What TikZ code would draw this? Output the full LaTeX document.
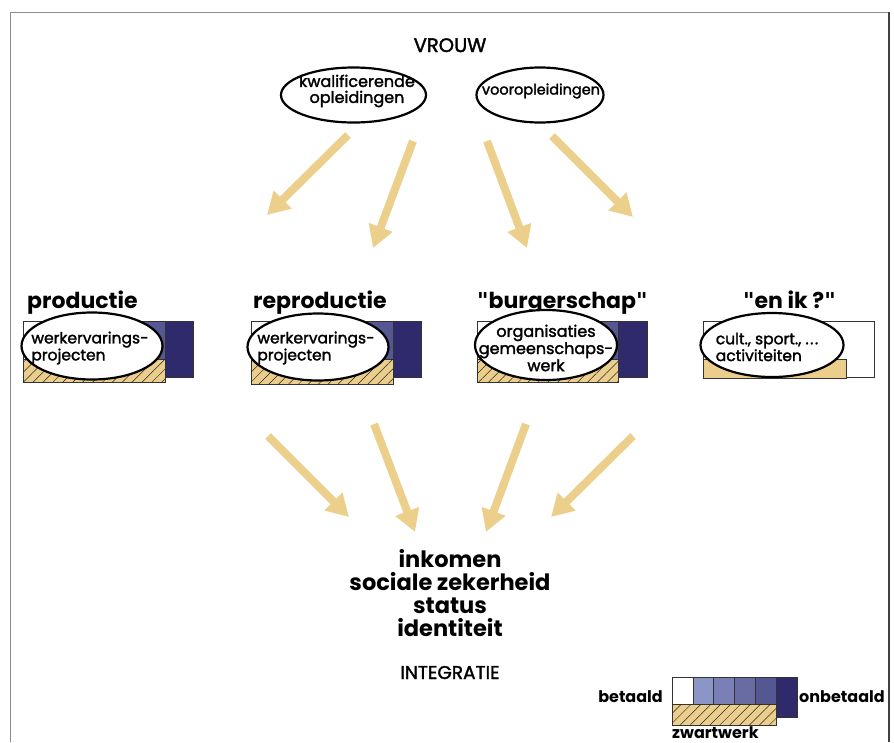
\documentclass[tikz,border=0pt]{standalone}
\usepackage{fontspec}
\setmainfont{Poppins}
\newfontfamily\medfont[FakeBold=1.8]{Poppins}
\newfontfamily\quotefont{DejaVu Sans}
\usetikzlibrary{shapes.geometric,arrows.meta,patterns.meta}
\definecolor{arrowtan}{RGB}{237,207,140}
\definecolor{hatchtan}{RGB}{236,206,140}
\definecolor{navyblue}{RGB}{47,42,108}
\definecolor{blueA}{RGB}{140,150,198}
\definecolor{blueB}{RGB}{122,128,181}
\definecolor{blueC}{RGB}{104,108,163}
\definecolor{blueD}{RGB}{85,87,146}
\definecolor{framegray}{RGB}{140,140,140}
\newcommand\dq{{\quotefont\bfseries "}}
\begin{document}
\begin{tikzpicture}[x=1pt,y=-1pt,
  bigarrow/.style={draw=arrowtan, line width=8pt, -{Triangle[width=24pt,length=22pt]}},
  oval/.style={ellipse, draw=black, line width=2.2pt, fill=white, inner sep=0pt},
  ovaltext/.style={inner sep=0pt, align=left, font=\medfont\fontsize{15.5}{13}\selectfont},
  heading/.style={anchor=base west, inner sep=0pt, font=\fontsize{22}{24}\selectfont\bfseries},
  bottomtext/.style={inner sep=0pt, anchor=base, font=\fontsize{22.5}{23}\selectfont\bfseries},
  legendtext/.style={inner sep=0pt, font=\fontsize{16}{18}\selectfont\bfseries},
  cell/.style={draw=black!80, line width=0.6pt},
  hatchbox/.style={draw=black!80, line width=0.6pt, fill=hatchtan,
     postaction={pattern={Lines[angle=45,distance=7pt,line width=0.5pt]}, pattern color=black!85}}
]
\useasboundingbox (0,0) rectangle (894,742);
\fill[white] (0,0) rectangle (894,742);
% frame
\draw[framegray, line width=1.5pt] (10.5,742) -- (10.5,12.3) -- (889,12.3);
\draw[black!75, line width=1.5pt] (889,12.3) -- (889,742);

% title and top ovals
\node[inner sep=0pt, anchor=base, font=\medfont\fontsize{19.5}{21}\selectfont] (vrouw) at (450,52) {VROUW};
\node[oval, minimum width=145pt, minimum height=55pt] (kwal) at (353.5,95) {};
\node[ovaltext, align=center, font=\medfont\fontsize{16}{16}\selectfont] (kwaltxt) at (357,91) {kwalificerende\\opleidingen};
\node[oval, minimum width=127pt, minimum height=55pt] (voor) at (540,95) {};
\node[ovaltext, font=\medfont\fontsize{14.5}{16}\selectfont] (voortxt) at (541,91) {vooropleidingen};

% top arrows
\coordinate (a1s) at (348,135); \coordinate (a1e) at (267,215);
\coordinate (a2s) at (413,141); \coordinate (a2e) at (373,248);
\coordinate (a3s) at (487,141); \coordinate (a3e) at (527,248);
\coordinate (a4s) at (552,136); \coordinate (a4e) at (633,217);
\draw[bigarrow] (a1s) -- (a1e);
\draw[bigarrow] (a2s) -- (a2e);
\draw[bigarrow] (a3s) -- (a3e);
\draw[bigarrow] (a4s) -- (a4e);

% headings
\node[heading] (hprod) at (27,308) {productie};
\node[heading] (hrepr) at (253,308) {reproductie};
\node[heading] (hburg) at (477,308) {\dq burgerschap\dq};
\node[heading] (henik) at (743,308) {\dq en ik ?\dq};

% group bars: productie
\draw[cell, fill=white] (23,321) rectangle (51.4,359);
\draw[cell, fill=blueA] (51.4,321) rectangle (79.8,359);
\draw[cell, fill=blueB] (79.8,321) rectangle (108.2,359);
\draw[cell, fill=blueC] (108.2,321) rectangle (136.6,359);
\draw[cell, fill=blueD] (136.6,321) rectangle (165,359);
\draw[cell, fill=navyblue] (165,321) rectangle (193,377);
\draw[hatchbox] (23,359) rectangle (165,382);
% reproductie
\draw[cell, fill=white] (251,321) rectangle (279.4,359);
\draw[cell, fill=blueA] (279.4,321) rectangle (307.8,359);
\draw[cell, fill=blueB] (307.8,321) rectangle (336.2,359);
\draw[cell, fill=blueC] (336.2,321) rectangle (364.6,359);
\draw[cell, fill=blueD] (364.6,321) rectangle (393,359);
\draw[cell, fill=navyblue] (393,321) rectangle (421,377);
\draw[hatchbox] (251,359) rectangle (393,384);
% burgerschap
\draw[cell, fill=white] (477,321) rectangle (505.2,359);
\draw[cell, fill=blueA] (505.2,321) rectangle (533.4,359);
\draw[cell, fill=blueB] (533.4,321) rectangle (561.6,359);
\draw[cell, fill=blueC] (561.6,321) rectangle (589.8,359);
\draw[cell, fill=blueD] (589.8,321) rectangle (618,359);
\draw[cell, fill=navyblue] (618,321) rectangle (647,377);
\draw[hatchbox] (477,359) rectangle (618,382);
% en ik
\draw[cell, fill=white] (703,321) rectangle (874,377);
\draw[cell, fill=hatchtan] (703,359) rectangle (846,378);

% group ovals
\node[oval, minimum width=141pt, minimum height=67pt] (eprod) at (92,346) {};
\node[ovaltext] (tprod) at (90,348) {werkervarings-\\projecten};
\node[oval, minimum width=141pt, minimum height=67pt] (erepr) at (318,347) {};
\node[ovaltext] (trepr) at (316,348) {werkervarings-\\projecten};
\node[oval, minimum width=142pt, minimum height=70pt] (eburg) at (546,345) {};
\node[ovaltext, align=center, font=\medfont\fontsize{16}{12}\selectfont] (tburg) at (546,348) {organisaties\\gemeenschaps-\\werk};
\node[oval, minimum width=143pt, minimum height=64pt] (enik) at (772,345) {};
\node[ovaltext] (tenik) at (767,347) {cult., sport., .\kern1.5pt.\kern1.5pt.\\activiteiten};

% bottom arrows
\coordinate (b1s) at (268,436); \coordinate (b1e) at (349,517);
\coordinate (b2s) at (374,424); \coordinate (b2e) at (415,532);
\coordinate (b3s) at (526,424); \coordinate (b3e) at (486,532);
\coordinate (b4s) at (633,436); \coordinate (b4e) at (551,517);
\draw[bigarrow] (b1s) -- (b1e);
\draw[bigarrow] (b2s) -- (b2e);
\draw[bigarrow] (b3s) -- (b3e);
\draw[bigarrow] (b4s) -- (b4e);

% bottom text
\node[bottomtext] (ink) at (450,567) {inkomen};
\node[bottomtext] (soc) at (450,590) {sociale zekerheid};
\node[bottomtext] (stat) at (450,613) {status};
\node[bottomtext] (ident) at (450,636) {identiteit};
\node[inner sep=0pt, anchor=base, font=\medfont\fontsize{18.5}{20}\selectfont] (integr) at (450,679) {INTEGRATIE};

% legend
\draw[cell, fill=white] (672,677) rectangle (692.8,704);
\draw[cell, fill=blueA] (692.8,677) rectangle (713.6,704);
\draw[cell, fill=blueB] (713.6,677) rectangle (734.4,704);
\draw[cell, fill=blueC] (734.4,677) rectangle (755.2,704);
\draw[cell, fill=blueD] (755.2,677) rectangle (776,704);
\draw[cell, fill=navyblue] (776,677) rectangle (796.8,717);
\draw[hatchbox] (672,704) rectangle (776,725);
\node[legendtext, anchor=base east] (betaald) at (663,702) {betaald};
\node[legendtext, anchor=base west] (onbetaald) at (799,702) {onbetaald};
\node[legendtext, anchor=base west] (zwart) at (672,738) {zwartwerk};
\end{tikzpicture}
\end{document}
